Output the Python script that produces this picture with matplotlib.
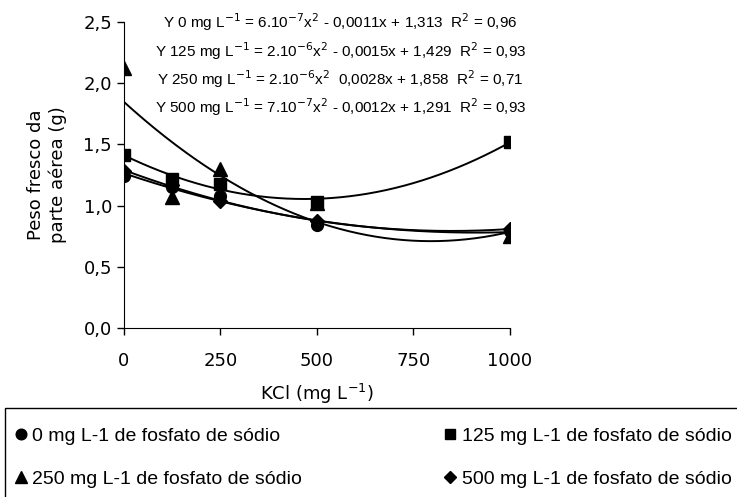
import numpy as np
import matplotlib
matplotlib.use("Agg")
import matplotlib.pyplot as plt
from matplotlib.ticker import FuncFormatter
from matplotlib.patches import Rectangle

plt.rcParams['font.family'] = ['DejaVu Sans']

kcl = [0, 125, 250, 500, 1000]
s0 = [1.24, 1.15, 1.08, 0.84, 0.79]
s125 = [1.41, 1.22, 1.18, 1.03, 1.52]
s250 = [2.12, 1.07, 1.30, 1.02, 0.75]
s500 = [1.28, 1.17, 1.04, 0.87, 0.81]

labels = ["0 mg L-1 de fosfato de sódio", "125 mg L-1 de fosfato de sódio",
          "250 mg L-1 de fosfato de sódio", "500 mg L-1 de fosfato de sódio"]
markers = ["o", "s", "^", "D"]
marker_sizes = [8.5, 8.5, 10, 7]
equations = [
    r"Y 0 mg L$^{-1}$ = 6.10$^{-7}$x$^{2}$ - 0,0011x + 1,313  R$^{2}$ = 0,96",
    r"Y 125 mg L$^{-1}$ = 2.10$^{-6}$x$^{2}$ - 0,0015x + 1,429  R$^{2}$ = 0,93",
    r"Y 250 mg L$^{-1}$ = 2.10$^{-6}$x$^{2}$  0,0028x + 1,858  R$^{2}$ = 0,71",
    r"Y 500 mg L$^{-1}$ = 7.10$^{-7}$x$^{2}$ - 0,0012x + 1,291  R$^{2}$ = 0,93",
]

fig = plt.figure(figsize=(7.37, 4.97), dpi=100)
ax = fig.add_axes([0.168, 0.34, 0.524, 0.616])

series = [s0, s125, s250, s500]
xs = np.linspace(0, 1000, 300)
handles = []
for s, m, msz, lab in zip(series, markers, marker_sizes, labels):
    coef = np.polyfit(kcl, s, 2)
    ax.plot(xs, np.polyval(coef, xs), color='black', lw=1.4, zorder=2)
    h, = ax.plot(kcl, s, linestyle='none', marker=m, color='black', ms=msz, zorder=3, label=lab)
    handles.append(h)

ax.set_xlim(0, 1000)
ax.set_ylim(0, 2.5)
ax.set_xticks([0, 250, 500, 750, 1000])
ax.set_yticks([0, 0.5, 1.0, 1.5, 2.0, 2.5])
ax.yaxis.set_major_formatter(FuncFormatter(lambda v, p: f"{v:.1f}".replace('.', ',')))
ax.spines['top'].set_visible(False)
ax.spines['right'].set_visible(False)
ax.tick_params(axis='both', labelsize=13, direction='out', length=5, width=1)
ax.tick_params(axis='x', pad=12)
ax.set_xlabel(r"KCl (mg L$^{-1}$)", fontsize=13, labelpad=9)
ax.set_ylabel("Peso fresco da\nparte aérea (g)", fontsize=13, labelpad=12)

for i, eq in enumerate(equations):
    fig.text(0.462, 0.955 - i * 0.057, eq, fontsize=11, ha='center', va='center',
             family='Liberation Sans')

# legend box
fig.patches.append(Rectangle((0.0068, -0.02), 0.999, 0.199, transform=fig.transFigure,
                             fill=False, edgecolor='black', lw=1.0))
order = [0, 2, 1, 3]
leg = fig.legend(handles=[handles[i] for i in order], labels=[labels[i] for i in order],
                 loc='upper left', ncol=2, bbox_to_anchor=(0.02, 0.14),
                 prop={'family': 'Liberation Sans', 'size': 14}, frameon=False,
                 handlelength=0.6, handletextpad=0.3, borderaxespad=0, borderpad=0,
                 labelspacing=1.3, columnspacing=7.3, markerscale=0.9)

fig.savefig("out.png", dpi=100)
